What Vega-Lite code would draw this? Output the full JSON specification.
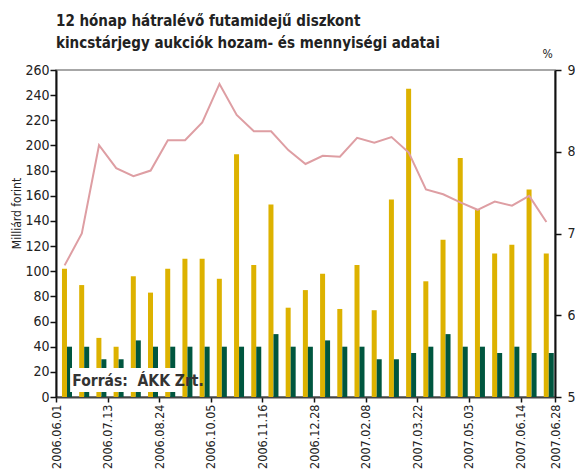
{
  "$schema": "https://vega.github.io/schema/vega-lite/v6.json",
  "width": 499,
  "height": 327,
  "autosize": {"type": "none"},
  "padding": {"left": 56, "top": 70, "right": 20, "bottom": 73},
  "background": "white",
  "config": {
    "font": "DejaVu Sans Condensed",
    "view": {"stroke": "#8a8a8a", "strokeWidth": 1.5},
    "axis": {"labelFont": "DejaVu Sans Condensed", "labelFontSize": 14, "labelColor": "#222", "grid": false, "tickColor": "#111", "domainColor": "#111", "domainWidth": 2, "tickWidth": 1.5, "titleFont": "DejaVu Sans Condensed", "titleFontWeight": "normal", "titleColor": "#222"}
  },
  "title": {
    "text": ["12 hónap hátralévő futamidejű diszkont", "kincstárjegy aukciók hozam- és mennyiségi adatai"],
    "anchor": "start",
    "frame": "group",
    "font": "DejaVu Sans Condensed",
    "fontSize": 15,
    "fontWeight": "bold",
    "color": "#222",
    "lineHeight": 22,
    "offset": -4
  },
  "datasets": {
    "bars": [
      {"date": "2006.06.01", "series": "Benyújtott", "amount": 102},
      {"date": "2006.06.01", "series": "Elfogadott", "amount": 40},
      {"date": "2006.06.15", "series": "Benyújtott", "amount": 89},
      {"date": "2006.06.15", "series": "Elfogadott", "amount": 40},
      {"date": "2006.06.29", "series": "Benyújtott", "amount": 47},
      {"date": "2006.06.29", "series": "Elfogadott", "amount": 30},
      {"date": "2006.07.13", "series": "Benyújtott", "amount": 40},
      {"date": "2006.07.13", "series": "Elfogadott", "amount": 30},
      {"date": "2006.07.27", "series": "Benyújtott", "amount": 96},
      {"date": "2006.07.27", "series": "Elfogadott", "amount": 45},
      {"date": "2006.08.10", "series": "Benyújtott", "amount": 83},
      {"date": "2006.08.10", "series": "Elfogadott", "amount": 40},
      {"date": "2006.08.24", "series": "Benyújtott", "amount": 102},
      {"date": "2006.08.24", "series": "Elfogadott", "amount": 40},
      {"date": "2006.09.07", "series": "Benyújtott", "amount": 110},
      {"date": "2006.09.07", "series": "Elfogadott", "amount": 40},
      {"date": "2006.09.21", "series": "Benyújtott", "amount": 110},
      {"date": "2006.09.21", "series": "Elfogadott", "amount": 40},
      {"date": "2006.10.05", "series": "Benyújtott", "amount": 94},
      {"date": "2006.10.05", "series": "Elfogadott", "amount": 40},
      {"date": "2006.10.19", "series": "Benyújtott", "amount": 193},
      {"date": "2006.10.19", "series": "Elfogadott", "amount": 40},
      {"date": "2006.11.02", "series": "Benyújtott", "amount": 105},
      {"date": "2006.11.02", "series": "Elfogadott", "amount": 40},
      {"date": "2006.11.16", "series": "Benyújtott", "amount": 153},
      {"date": "2006.11.16", "series": "Elfogadott", "amount": 50},
      {"date": "2006.11.30", "series": "Benyújtott", "amount": 71},
      {"date": "2006.11.30", "series": "Elfogadott", "amount": 40},
      {"date": "2006.12.14", "series": "Benyújtott", "amount": 85},
      {"date": "2006.12.14", "series": "Elfogadott", "amount": 40},
      {"date": "2006.12.28", "series": "Benyújtott", "amount": 98},
      {"date": "2006.12.28", "series": "Elfogadott", "amount": 45},
      {"date": "2007.01.11", "series": "Benyújtott", "amount": 70},
      {"date": "2007.01.11", "series": "Elfogadott", "amount": 40},
      {"date": "2007.01.25", "series": "Benyújtott", "amount": 105},
      {"date": "2007.01.25", "series": "Elfogadott", "amount": 40},
      {"date": "2007.02.08", "series": "Benyújtott", "amount": 69},
      {"date": "2007.02.08", "series": "Elfogadott", "amount": 30},
      {"date": "2007.02.22", "series": "Benyújtott", "amount": 157},
      {"date": "2007.02.22", "series": "Elfogadott", "amount": 30},
      {"date": "2007.03.08", "series": "Benyújtott", "amount": 245},
      {"date": "2007.03.08", "series": "Elfogadott", "amount": 35},
      {"date": "2007.03.22", "series": "Benyújtott", "amount": 92},
      {"date": "2007.03.22", "series": "Elfogadott", "amount": 40},
      {"date": "2007.04.05", "series": "Benyújtott", "amount": 125},
      {"date": "2007.04.05", "series": "Elfogadott", "amount": 50},
      {"date": "2007.04.19", "series": "Benyújtott", "amount": 190},
      {"date": "2007.04.19", "series": "Elfogadott", "amount": 40},
      {"date": "2007.05.03", "series": "Benyújtott", "amount": 149},
      {"date": "2007.05.03", "series": "Elfogadott", "amount": 40},
      {"date": "2007.05.17", "series": "Benyújtott", "amount": 114},
      {"date": "2007.05.17", "series": "Elfogadott", "amount": 35},
      {"date": "2007.05.31", "series": "Benyújtott", "amount": 121},
      {"date": "2007.05.31", "series": "Elfogadott", "amount": 40},
      {"date": "2007.06.14", "series": "Benyújtott", "amount": 165},
      {"date": "2007.06.14", "series": "Elfogadott", "amount": 35},
      {"date": "2007.06.28", "series": "Benyújtott", "amount": 114},
      {"date": "2007.06.28", "series": "Elfogadott", "amount": 35}
    ],
    "yield": [
      {"date": "2006.06.01", "hozam": 6.61},
      {"date": "2006.06.15", "hozam": 7.00},
      {"date": "2006.06.29", "hozam": 8.08},
      {"date": "2006.07.13", "hozam": 7.80},
      {"date": "2006.07.27", "hozam": 7.70},
      {"date": "2006.08.10", "hozam": 7.77},
      {"date": "2006.08.24", "hozam": 8.14},
      {"date": "2006.09.07", "hozam": 8.14},
      {"date": "2006.09.21", "hozam": 8.36},
      {"date": "2006.10.05", "hozam": 8.83},
      {"date": "2006.10.19", "hozam": 8.45},
      {"date": "2006.11.02", "hozam": 8.25},
      {"date": "2006.11.16", "hozam": 8.25},
      {"date": "2006.11.30", "hozam": 8.02},
      {"date": "2006.12.14", "hozam": 7.85},
      {"date": "2006.12.28", "hozam": 7.95},
      {"date": "2007.01.11", "hozam": 7.94},
      {"date": "2007.01.25", "hozam": 8.17},
      {"date": "2007.02.08", "hozam": 8.11},
      {"date": "2007.02.22", "hozam": 8.18},
      {"date": "2007.03.08", "hozam": 7.99},
      {"date": "2007.03.22", "hozam": 7.54},
      {"date": "2007.04.05", "hozam": 7.48},
      {"date": "2007.04.19", "hozam": 7.38},
      {"date": "2007.05.03", "hozam": 7.29},
      {"date": "2007.05.17", "hozam": 7.39},
      {"date": "2007.05.31", "hozam": 7.34},
      {"date": "2007.06.14", "hozam": 7.46},
      {"date": "2007.06.28", "hozam": 7.14}
    ],
    "ticks": [
      {"pos": 0, "label": "2006.06.01"},
      {"pos": 3, "label": "2006.07.13"},
      {"pos": 6, "label": "2006.08.24"},
      {"pos": 9, "label": "2006.10.05"},
      {"pos": 12, "label": "2006.11.16"},
      {"pos": 15, "label": "2006.12.28"},
      {"pos": 18, "label": "2007.02.08"},
      {"pos": 21, "label": "2007.03.22"},
      {"pos": 24, "label": "2007.05.03"},
      {"pos": 27, "label": "2007.06.14"},
      {"pos": 29, "label": "2007.06.28"}
    ],
    "note": [
      {"source": "Forrás:\u00a0\u00a0ÁKK Zrt."}
    ]
  },
  "layer": [
    {
      "layer": [
        {
          "data": {"name": "bars"},
          "mark": {"type": "bar"},
          "encoding": {
            "x": {"field": "date", "type": "nominal", "sort": null, "scale": {"type": "band", "paddingInner": 0, "paddingOuter": 0}, "axis": null},
            "xOffset": {"field": "series", "type": "nominal", "scale": {"domain": ["Benyújtott", "Elfogadott"], "paddingInner": 0, "paddingOuter": 0.72, "align": 0.83}},
            "y": {"field": "amount", "type": "quantitative", "scale": {"domain": [0, 260], "nice": false},
              "axis": {"orient": "left", "values": [0,20,40,60,80,100,120,140,160,180,200,220,240,260], "tickSize": 6, "labelPadding": 1, "title": "Milliárd forint", "titleFontSize": 12, "titleAngle": -90, "titleX": -36, "titleY": 143, "titleAlign": "center", "titleBaseline": "alphabetic"}},
            "color": {"field": "series", "type": "nominal", "scale": {"domain": ["Benyújtott", "Elfogadott"], "range": ["#DDB200", "#00563F"]}, "legend": null}
          }
        },
        {
          "data": {"name": "yield"},
          "mark": {"type": "line", "color": "#DE9EA3", "strokeWidth": 2},
          "encoding": {
            "x": {"field": "date", "type": "nominal", "sort": null, "scale": {"type": "band", "paddingInner": 0, "paddingOuter": 0}, "axis": null},
            "y": {"field": "hozam", "type": "quantitative", "scale": {"domain": [5, 9], "nice": false, "zero": false},
              "axis": {"orient": "right", "values": [5,6,7,8,9], "tickSize": 6, "labelPadding": 6, "title": "%", "titleAngle": 0, "titleFontSize": 12, "titleX": -8, "titleY": -13, "titleAlign": "center", "titleBaseline": "alphabetic"}}
          }
        }
      ],
      "resolve": {"scale": {"y": "independent"}, "axis": {"y": "independent"}}
    },
    {
      "layer": [
        {
          "data": {"name": "ticks"},
          "mark": {"type": "rule", "opacity": 0},
          "encoding": {
            "x": {"field": "pos", "type": "quantitative", "scale": {"domain": [0, 29], "nice": false, "zero": false},
              "axis": {"orient": "bottom", "values": [0,3,6,9,12,15,18,21,24,27,29], "labelAngle": 270, "labelFontSize": 12.5, "tickSize": 5, "labelPadding": 2, "domainColor": "#444", "labelExpr": "['2006.06.01','','','2006.07.13','','','2006.08.24','','','2006.10.05','','','2006.11.16','','','2006.12.28','','','2007.02.08','','','2007.03.22','','','2007.05.03','','','2007.06.14','','2007.06.28'][datum.value]", "title": null, "labelOverlap": false}}
          }
        },
        {
          "data": {"name": "note"},
          "mark": {"type": "rect", "color": "white"},
          "encoding": {
            "x": {"datum": 0.82, "type": "quantitative"},
            "x2": {"datum": 7.05},
            "y": {"datum": 4, "type": "quantitative", "scale": {"domain": [0, 260], "nice": false}, "axis": null},
            "y2": {"datum": 23}
          }
        },
        {
          "data": {"name": "note"},
          "mark": {"type": "text", "fontWeight": "bold", "fontSize": 15.5, "color": "#333", "align": "left", "baseline": "middle"},
          "encoding": {
            "text": {"field": "source", "type": "nominal"},
            "x": {"datum": 0.95, "type": "quantitative"},
            "y": {"datum": 12.5, "type": "quantitative"}
          }
        }
      ]
    }
  ],
  "resolve": {"scale": {"x": "independent", "y": "independent"}, "axis": {"x": "independent", "y": "independent"}}
}
